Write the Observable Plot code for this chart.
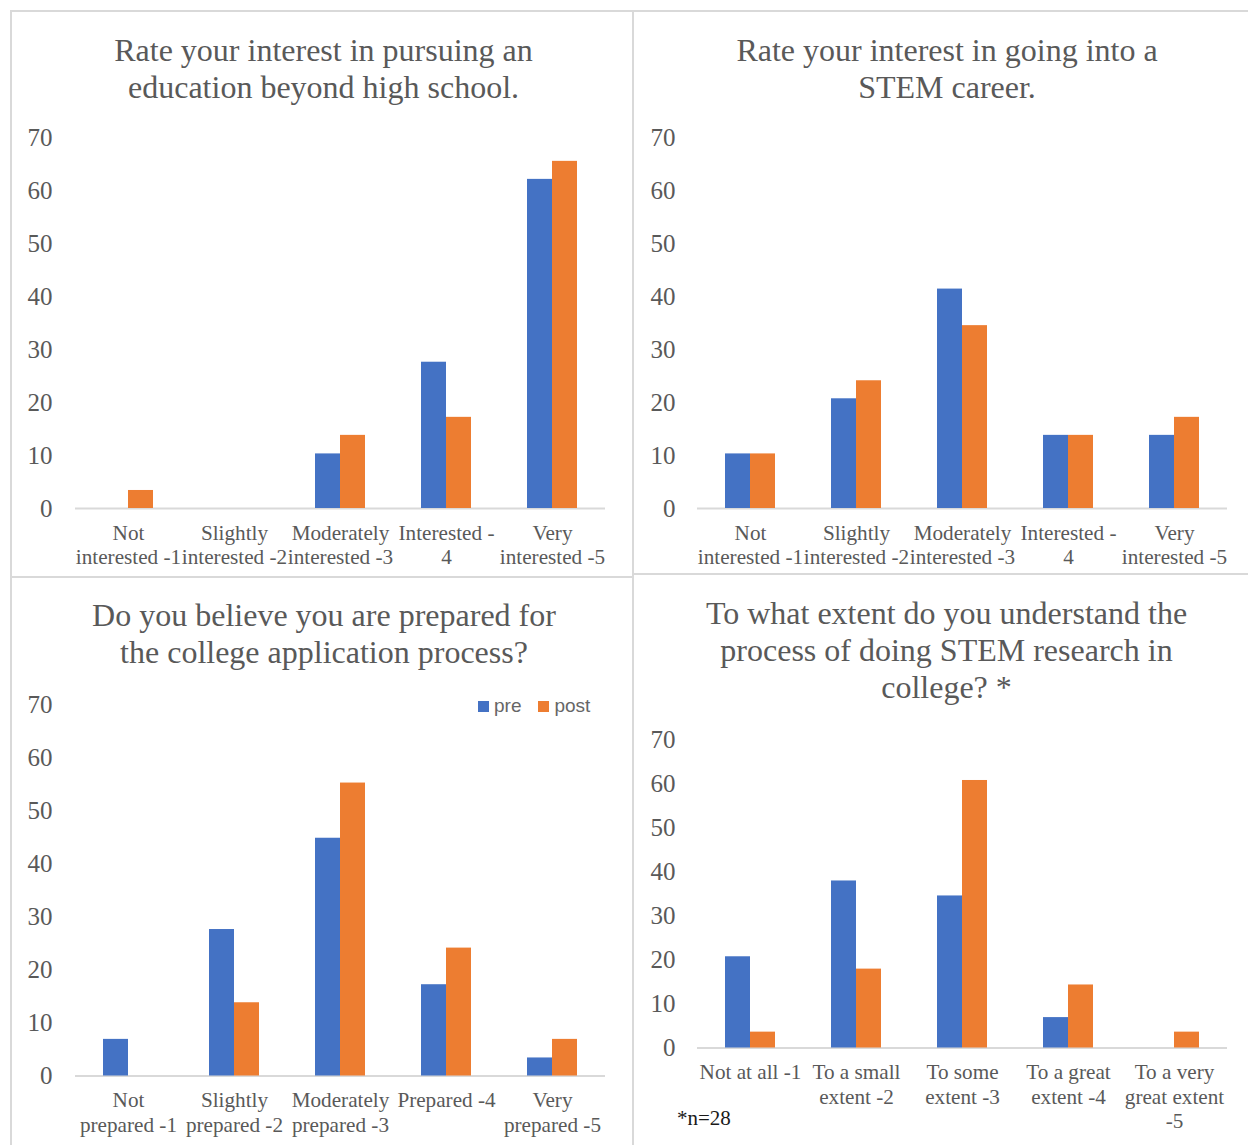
<!DOCTYPE html>
<html><head><meta charset="utf-8">
<script src="https://cdn.jsdelivr.net/npm/d3@7"></script>
<script src="https://cdn.jsdelivr.net/npm/@observablehq/plot@0.6"></script>
<style>
html,body{margin:0;padding:0;background:#fff;}
#root{position:relative;width:1248px;height:1145px;overflow:hidden;background:#fff;font-family:"Liberation Serif","Times New Roman",serif;}
.box{position:absolute;border:2px solid #d9d9d9;box-sizing:border-box;pointer-events:none;}
.title{position:absolute;text-align:center;color:#595959;font-size:32px;white-space:nowrap;}
.chart{position:absolute;}
.legend{position:absolute;display:flex;align-items:center;height:24px;font-family:"Liberation Sans",Arial,sans-serif;font-size:19px;color:#666666;}
.legend .sw{width:11px;height:11px;margin-right:5px;}
.legend .lab{margin-right:17px;}
.note{position:absolute;font-size:21px;line-height:21px;color:#1a1a1a;white-space:nowrap;}
</style></head><body><div id="root"></div>
<script>
// ---- data ----
const series = ["pre", "post"];
const colors = ["#4472C4", "#ED7D31"];
const yTicks = [0, 10, 20, 30, 40, 50, 60, 70];

const title1 = ["Rate your interest in pursuing an", "education beyond high school."];
const cats1 = ["Not\ninterested -1", "Slightly\ninterested -2", "Moderately\ninterested -3", "Interested -\n4", "Very\ninterested -5"];
const pre1 = [0, 0, 10.3, 27.6, 62.1];
const post1 = [3.4, 0, 13.8, 17.2, 65.5];

const title2 = ["Rate your interest in going into a", "STEM career."];
const cats2 = ["Not\ninterested -1", "Slightly\ninterested -2", "Moderately\ninterested -3", "Interested -\n4", "Very\ninterested -5"];
const pre2 = [10.3, 20.7, 41.4, 13.8, 13.8];
const post2 = [10.3, 24.1, 34.5, 13.8, 17.2];

const title3 = ["Do you believe you are prepared for", "the college application process?"];
const cats3 = ["Not\nprepared -1", "Slightly\nprepared -2", "Moderately\nprepared -3", "Prepared -4", "Very\nprepared -5"];
const pre3 = [6.9, 27.6, 44.8, 17.2, 3.4];
const post3 = [0, 13.8, 55.2, 24.1, 6.9];

const title4 = ["To what extent do you understand the", "process of doing STEM research in", "college? *"];
const cats4 = ["Not at all -1", "To a small\nextent -2", "To some\nextent -3", "To a great\nextent -4", "To a very\ngreat extent\n-5"];
const pre4 = [20.7, 37.9, 34.5, 6.9, 0];
const post4 = [3.6, 17.9, 60.7, 14.3, 3.6];
const note4 = "*n=28";

// ---- layout ----
const root = document.getElementById("root");

function box(l, t, w, h) {
  const d = document.createElement("div");
  d.className = "box";
  Object.assign(d.style, {left: l + "px", top: t + "px", width: w + "px", height: h + "px"});
  root.appendChild(d);
}

function title(lines, cx, top, lh) {
  const d = document.createElement("div");
  d.className = "title";
  Object.assign(d.style, {left: (cx - 400) + "px", width: "800px", top: top + "px", lineHeight: lh + "px"});
  d.innerHTML = lines.join("<br>");
  root.appendChild(d);
}

function chart(cats, pre, post, o) {
  const rows = [];
  cats.forEach((c, i) => {
    rows.push({cat: c, series: series[0], value: pre[i]});
    rows.push({cat: c, series: series[1], value: post[i]});
  });
  const svg = Plot.plot({
    width: o.width, height: o.height,
    marginLeft: 73, marginRight: o.mr, marginTop: o.mt, marginBottom: o.mb,
    style: {fontFamily: "Liberation Serif, Times New Roman, serif", fontSize: "25px", color: "#595959", background: "transparent", overflow: "visible"},
    fx: {domain: cats, padding: 0, axis: null, label: null},
    x: {domain: series, paddingInner: 0, paddingOuter: 1.054, axis: null, label: null},
    y: {domain: [0, 70], ticks: yTicks, tickSize: 0, tickPadding: o.tp, label: null},
    color: {domain: series, range: colors},
    marks: [
      Plot.ruleY([0], {stroke: "#d9d9d9", strokeWidth: 2}),
      Plot.barY(rows, {fx: "cat", x: "series", y: "value", fill: "series"}),
      Plot.text(cats, {fx: d => d, text: d => d, frameAnchor: "bottom", lineAnchor: "top", dy: 14, fontSize: 21.2, lineHeight: 1.15, fill: "#595959"})
    ]
  });
  const wrap = document.createElement("div");
  wrap.className = "chart";
  Object.assign(wrap.style, {left: o.left + "px", top: o.top + "px"});
  wrap.appendChild(svg);
  root.appendChild(wrap);
}

chart(cats1, pre1, post1, {left: 0, top: 115, width: 633, height: 463, mr: 26, mt: 22, mb: 70, tp: 23});
chart(cats2, pre2, post2, {left: 622, top: 115, width: 626, height: 463, mr: 19, mt: 22, mb: 70, tp: 22});
chart(cats3, pre3, post3, {left: 0, top: 682, width: 633, height: 463.5, mr: 26, mt: 22, mb: 70, tp: 23});
chart(cats4, pre4, post4, {left: 622, top: 717, width: 626, height: 430.5, mr: 19, mt: 22, mb: 100, tp: 22});

title(title1, 323.5, 32, 37);
title(title2, 947, 32, 37);
title(title3, 324, 597, 37);
title(title4, 946.5, 595, 37);

// legend (panel 3)
const lg = document.createElement("div");
lg.className = "legend";
Object.assign(lg.style, {left: "478px", top: "694px"});
series.forEach((s, i) => {
  const sw = document.createElement("span"); sw.className = "sw"; sw.style.background = colors[i];
  const lb = document.createElement("span"); lb.className = "lab"; lb.textContent = s;
  lg.appendChild(sw); lg.appendChild(lb);
});
root.appendChild(lg);

// note (panel 4)
const nt = document.createElement("div");
nt.className = "note";
Object.assign(nt.style, {left: "677px", top: "1108px"});
nt.textContent = note4;
root.appendChild(nt);

// panel borders
box(10, 10, 624, 568);
box(632, 10, 640, 565);
box(10, 576, 624, 600);
box(632, 573, 640, 600);
</script></body></html>
